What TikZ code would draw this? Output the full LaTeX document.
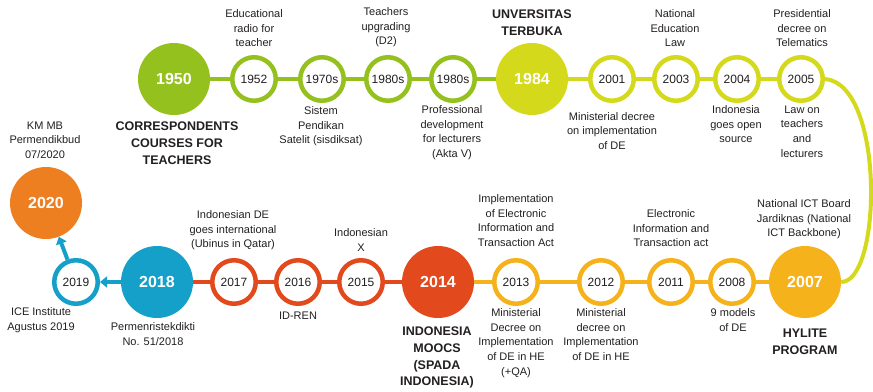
\documentclass[tikz,border=0pt]{standalone}
\usepackage{fontspec}
\setmainfont{Liberation Sans}
\usetikzlibrary{arrows.meta}
\definecolor{cgreen}{RGB}{149,193,31}
\definecolor{cyg}{RGB}{213,217,28}
\definecolor{cgold}{RGB}{245,178,26}
\definecolor{cred}{RGB}{226,74,30}
\definecolor{cblue}{RGB}{20,160,200}
\definecolor{corange}{RGB}{238,127,33}
\definecolor{ctext}{RGB}{35,31,32}
\begin{document}
\begin{tikzpicture}[x=1pt,y=-1pt,
 ring/.style={circle,draw=#1,line width=4.5pt,fill=white,minimum size=43.5pt,inner sep=0pt,text=ctext,font=\fontsize{12}{14}\selectfont},
 bigc/.style={circle,fill=#1,minimum size=72pt,inner sep=0pt,text=white,font=\bfseries\fontsize{16}{18}\selectfont},
 desc/.style={align=center,inner sep=0pt,anchor=north,text=ctext,font=\fontsize{11}{14.6}\selectfont},
 ttl/.style={align=center,inner sep=0pt,anchor=north,text=ctext,font=\bfseries\fontsize{12.5}{16.8}\selectfont},
 link/.style={draw=#1,line width=4pt},
 tip/.style={-{Triangle[length=7pt,width=11pt]}}
]
\useasboundingbox (0,0) rectangle (873,391);
% top row
\node[bigc=cgreen] (n1950) at (174,79) {1950};
\node[ring=cgreen] (n1952) at (254,79) {1952};
\node[ring=cgreen] (n1970) at (322,79) {1970s};
\node[ring=cgreen] (n1980a) at (388,79) {1980s};
\node[ring=cgreen] (n1980b) at (453,79) {1980s};
\node[bigc=cyg] (n1984) at (532,79) {1984};
\node[ring=cyg] (n2001) at (612,79) {2001};
\node[ring=cyg] (n2003) at (676,79) {2003};
\node[ring=cyg] (n2004) at (737,79) {2004};
\node[ring=cyg] (n2005) at (801,79) {2005};
% bottom row
\node[bigc=cgold] (n2007) at (805,282) {2007};
\node[ring=cgold] (n2008) at (732,282) {2008};
\node[ring=cgold] (n2011) at (671,282) {2011};
\node[ring=cgold] (n2012) at (601,282) {2012};
\node[ring=cgold] (n2013) at (516,282) {2013};
\node[bigc=cred] (n2014) at (438,282) {2014};
\node[ring=cred] (n2015) at (361,282) {2015};
\node[ring=cred] (n2016) at (298,282) {2016};
\node[ring=cred] (n2017) at (234,282) {2017};
\node[bigc=cblue] (n2018) at (157,282) {2018};
\node[ring=cblue] (n2019) at (76,282) {2019};
\node[bigc=corange] (n2020) at (46,203) {2020};
% connectors
\draw[link=cgreen] (n1950) -- (n1952);
\draw[link=cgreen] (n1952) -- (n1970);
\draw[link=cgreen] (n1970) -- (n1980a);
\draw[link=cgreen] (n1980a) -- (n1980b);
\draw[link=cgreen] (n1980b) -- (n1984);
\draw[link=cyg] (n1984) -- (n2001);
\draw[link=cyg] (n2001) -- (n2003);
\draw[link=cyg] (n2003) -- (n2004);
\draw[link=cyg] (n2004) -- (n2005);
\draw[link=cyg] (n2005.east) .. controls (885,84) and (882,282) .. (n2007.east);
\draw[link=cgold] (n2007) -- (n2008);
\draw[link=cgold] (n2008) -- (n2011);
\draw[link=cgold] (n2011) -- (n2012);
\draw[link=cgold] (n2012) -- (n2013);
\draw[link=cgold] (n2013) -- (n2014);
\draw[link=cred] (n2014) -- (n2015);
\draw[link=cred] (n2015) -- (n2016);
\draw[link=cred] (n2016) -- (n2017);
\draw[link=cred] (n2017) -- (n2018);
\draw[link=cblue,tip] (n2018) -- (n2019);
\draw[link=cblue,tip] (n2019) -- (n2020);
% top texts
\node[desc] (t1952) at (254,9.5) {Educational\\radio for\\teacher};
\node[desc] (t1970) at (321,106.5) {Sistem\\Pendikan\\Satelit (sisdiksat)};
\node[desc] (t1980a) at (386,7.5) {Teachers\\upgrading\\(D2)};
\node[desc] (t1980b) at (452,105.5) {Professional\\development\\for lecturers\\(Akta V)};
\node[ttl] (t1984) at (532,9.5) {UNVERSITAS\\TERBUKA};
\node[ttl] (t1950) at (177,121.5) {CORRESPONDENTS\\COURSES FOR\\TEACHERS};
\node[desc] (t2001) at (612,112) {Ministerial decree\\on implementation\\of DE};
\node[desc] (t2003) at (675,9.5) {National\\Education\\Law};
\node[desc] (t2004) at (736,105.5) {Indonesia\\goes open\\source};
\node[desc] (t2005a) at (802,9.5) {Presidential\\decree on\\Telematics};
\node[desc] (t2005b) at (802,105.5) {Law on\\teachers\\and\\lecturers};
% bottom texts
\node[desc] (t2020) at (45,121.5) {KM MB\\Permendikbud\\07/2020};
\node[desc] (t2017) at (233,210.5) {Indonesian DE\\goes international\\(Ubinus in Qatar)};
\node[desc] (t2019) at (41,307.5) {ICE Institute\\Agustus 2019};
\node[desc] (t2018) at (153,322.5) {Permenristekdikti\\No. 51/2018};
\node[desc] (t2016) at (298,311.5) {ID-REN};
\node[desc] (t2015) at (361,228.5) {Indonesian\\X};
\node[ttl] (t2014) at (437,326.5) {INDONESIA\\MOOCS\\(SPADA\\INDONESIA)};
\node[desc] (t2013a) at (516,194.5) {Implementation\\of Electronic\\Information and\\Transaction Act};
\node[desc] (t2013b) at (516,308.5) {Ministerial\\Decree on\\Implementation\\of DE in HE\\(+QA)};
\node[desc] (t2012) at (601,308.5) {Ministerial\\decree on\\Implementation\\of DE in HE};
\node[desc] (t2011) at (671,209.5) {Electronic\\Information and\\Transaction act};
\node[desc] (t2008) at (733,308.5) {9 models\\of DE};
\node[desc] (t2007a) at (804,199.5) {National ICT Board\\Jardiknas (National\\ICT Backbone)};
\node[ttl] (t2007b) at (805,328.5) {HYLITE\\PROGRAM};
\end{tikzpicture}
\end{document}
